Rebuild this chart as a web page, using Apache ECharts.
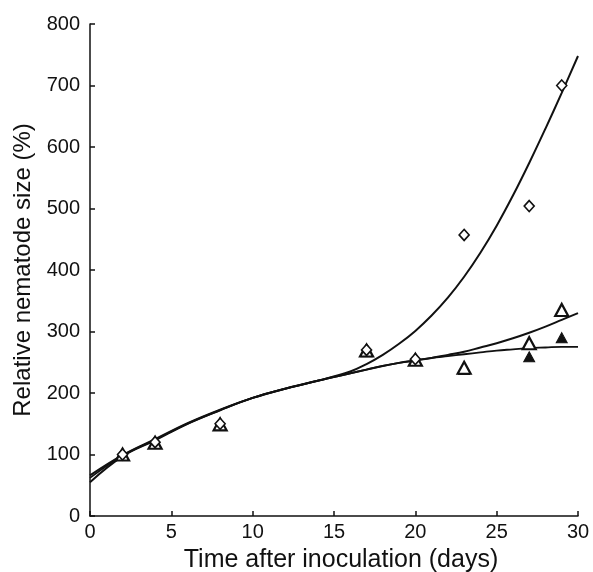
<!DOCTYPE html>
<html>
<head>
<meta charset="utf-8">
<script src="https://cdn.jsdelivr.net/npm/echarts@6/dist/echarts.min.js"></script>
<style>html,body{margin:0;padding:0;background:#fff;}#c{width:593px;height:572px;}</style>
</head>
<body>
<div id="c"></div>
<script>
// Measured points
const days = [2, 4, 8, 17, 20, 23, 27, 29];
const diamondVals = [100, 120, 150, 270, 255, 457, 504, 700];
const openTriVals = [100, 119, 149, 269, 254, 241, 281, 335];
const filledTriVals = [99, 118, 148, 267, 253, 238, 259, 290];

// Fitted curves
const curveX = [0, 2, 4, 6, 8, 10, 12, 14, 16, 17, 18, 19, 20, 21, 22, 23, 24, 25, 26, 27, 28, 29, 30];
const diamondCurve = [55, 97, 123, 150, 172, 192, 207, 220, 235, 247, 262, 280, 301, 326, 355, 389, 428, 472, 521, 574, 630, 688, 748];
const openCurve = [66, 99, 125, 151, 173, 192, 207, 220, 232, 238, 244, 249, 253, 257, 262, 267, 274, 281, 289, 298, 308, 319, 330];
const filledCurve = [62, 98, 124, 150, 172, 192, 207, 220, 232, 238, 244, 249, 253, 257, 260, 263, 266, 269, 271, 273, 274, 275, 275];

const xTicks = [0, 5, 10, 15, 20, 25, 30];
const yTicks = [0, 100, 200, 300, 400, 500, 600, 700, 800];

const pair = (xs, ys) => xs.map((x, i) => [x, ys[i]]);
const font = 'Liberation Sans, Arial, Helvetica, sans-serif';

const chart = echarts.init(document.getElementById('c'), null, {renderer: 'canvas'});
chart.setOption({
  animation: false,
  backgroundColor: '#fff',
  grid: {left: 90, right: 15, top: 24, bottom: 56, containLabel: false, outerBoundsMode: 'none'},
  xAxis: {
    type: 'value', min: xTicks[0], max: xTicks[xTicks.length - 1], interval: 5,
    name: 'Time after inoculation (days)', nameLocation: 'middle', nameGap: 32,
    nameTextStyle: {fontFamily: font, fontSize: 25, color: '#111', padding: [0, 0, 0, 14]},
    axisLine: {show: true, onZero: false, lineStyle: {color: '#111', width: 1.5}},
    axisTick: {show: true, inside: true, length: 5, lineStyle: {color: '#111', width: 1.5}},
    axisLabel: {fontFamily: font, fontSize: 20, color: '#111', margin: 6},
    splitLine: {show: false}
  },
  yAxis: {
    type: 'value', min: yTicks[0], max: yTicks[yTicks.length - 1], interval: 100,
    name: 'Relative nematode size (%)', nameLocation: 'middle', nameGap: 55,
    nameTextStyle: {fontFamily: font, fontSize: 24, color: '#111'},
    axisLine: {show: true, onZero: false, lineStyle: {color: '#111', width: 1.5}},
    axisTick: {show: true, inside: true, length: 5, lineStyle: {color: '#111', width: 1.5}},
    axisLabel: {fontFamily: font, fontSize: 20, color: '#111', margin: 10},
    splitLine: {show: false}
  },
  series: [
    {type: 'line', data: pair(curveX, filledCurve), smooth: 0.4, symbol: 'none',
     lineStyle: {color: '#111', width: 1.8}, z: 2},
    {type: 'line', data: pair(curveX, openCurve), smooth: 0.4, symbol: 'none',
     lineStyle: {color: '#111', width: 2}, z: 2},
    {type: 'line', data: pair(curveX, diamondCurve), smooth: 0.4, symbol: 'none',
     lineStyle: {color: '#111', width: 2}, z: 2},
    {type: 'scatter', data: pair(days, filledTriVals), symbol: 'triangle', symbolSize: [11, 10],
     itemStyle: {color: '#111', borderColor: '#111', borderWidth: 1, opacity: 1}, z: 3},
    {type: 'scatter', data: pair(days, openTriVals), symbol: 'triangle', symbolSize: [13, 12],
     itemStyle: {color: '#fff', borderColor: '#111', borderWidth: 2.2, opacity: 1}, z: 4},
    {type: 'scatter', data: pair(days, diamondVals), symbol: 'diamond', symbolSize: [10, 11],
     itemStyle: {color: '#fff', borderColor: '#111', borderWidth: 1.6, opacity: 1}, z: 5}
  ]
});
</script>
</body>
</html>
